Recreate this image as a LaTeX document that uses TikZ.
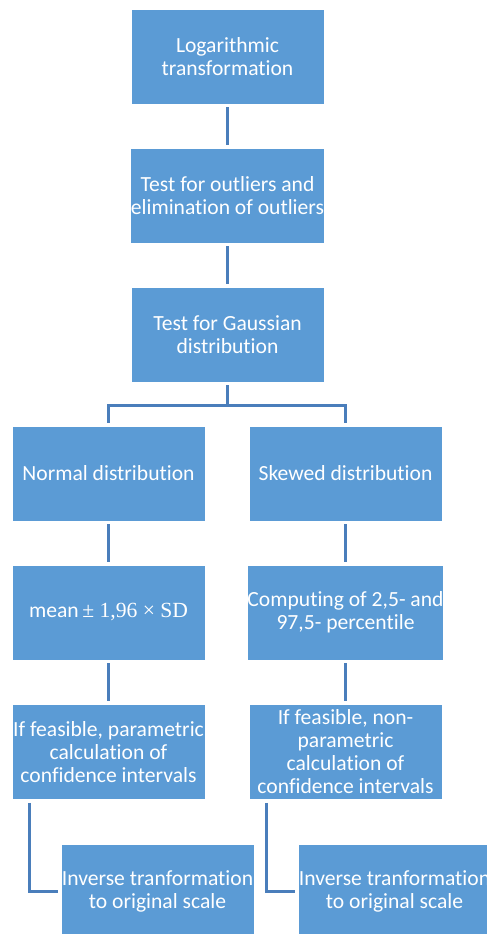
\documentclass[tikz,border=0pt]{standalone}
\usepackage{fontspec}
\setmainfont[Ligatures=NoCommon]{Carlito}
\newfontfamily\timesf{Liberation Serif}
\definecolor{boxblue}{HTML}{5B9BD5}
\definecolor{linkblue}{HTML}{4A7EBB}
\begin{document}
\begin{tikzpicture}[x=1pt,y=-1pt,
  stepbox/.style={rectangle, fill=boxblue, draw=white, line width=0.8pt,
    minimum width=193pt, minimum height=95pt, inner sep=0pt, align=center,
    text=white, font=\fontsize{21.6}{23}\selectfont},
  link/.style={draw=linkblue, line width=3pt, shorten <=3pt, shorten >=3pt}]
\useasboundingbox (0,0) rectangle (487,934);
\node[stepbox] (b1) at (227.5,56.5) {Logarithmic\\transformation};
\node[stepbox] (b2) at (227.5,195.5) {Test for outliers and\\elimination of outliers};
\node[stepbox] (b3) at (227.5,334.5) {Test for Gaussian\\distribution};
\node[stepbox] (l1) at (108.5,473.5) {Normal distribution};
\node[stepbox] (r1) at (345.5,473.5) {Skewed distribution};
\node[stepbox] (l2) at (108.5,612.5) {mean\,{\timesf ± 1,96 × SD}};
\node[stepbox] (r2) at (345.5,612.5) {Computing of 2,5- and\\97,5- percentile};
\node[stepbox] (l3) at (108.5,752) {If feasible, parametric\\calculation of\\confidence intervals};
\node[stepbox] (r3) at (345.5,752) {If feasible, non-\\parametric\\calculation of\\confidence intervals};
\node[stepbox] (l4) at (157.5,891.5) {Inverse tranformation\\to original scale};
\node[stepbox] (r4) at (394.5,891.5) {Inverse tranformation\\to original scale};
\draw[link] (b1) -- (b2);
\draw[link] (b2) -- (b3);
\draw[link] (b3.south) -- ++(0,23) -| (l1.north);
\draw[link] (b3.south) -- ++(0,23) -| (r1.north);
\draw[link] (l1) -- (l2);
\draw[link] (l2) -- (l3);
\draw[link] (r1) -- (r2);
\draw[link] (r2) -- (r3);
\draw[link] ([xshift=18pt]l3.south west) |- (l4.west);
\draw[link] ([xshift=18pt]r3.south west) |- (r4.west);
\end{tikzpicture}
\end{document}
